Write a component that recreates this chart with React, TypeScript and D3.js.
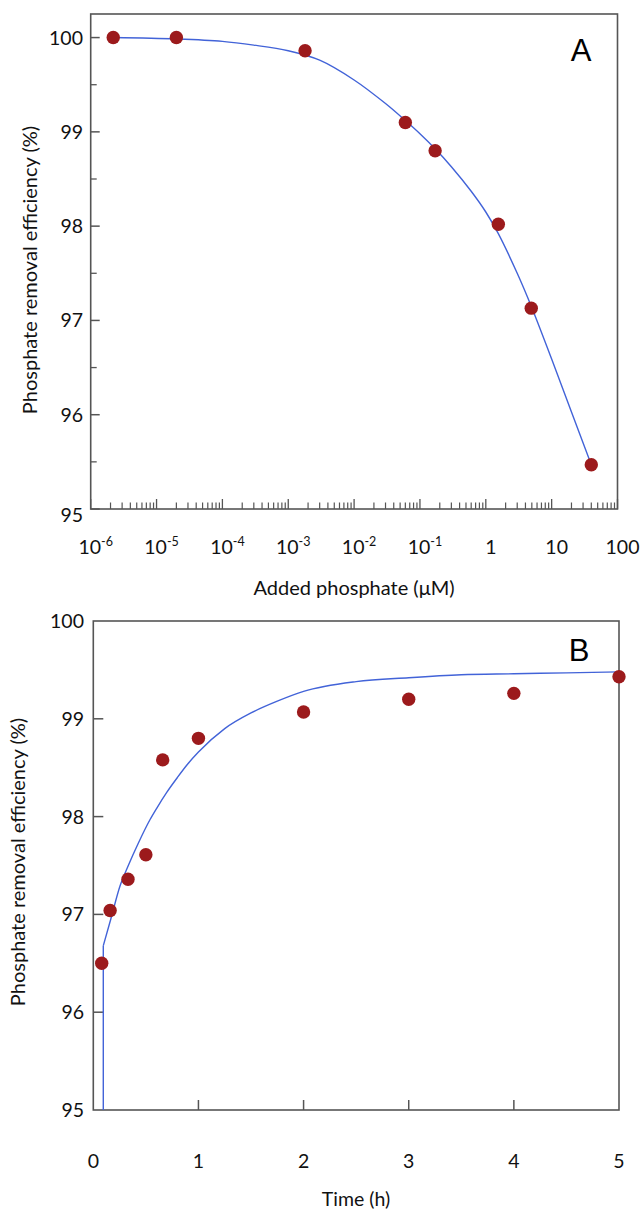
import React from 'react';
import * as d3 from 'd3';

// Panel A data
const aConc = [2.2e-6, 2.0e-5, 1.8e-3, 0.06, 0.17, 1.55, 4.9, 40];
const aEff = [100.0, 100.0, 99.86, 99.1, 98.8, 98.02, 97.13, 95.47];
const aFitConc = [2.2e-6, 2e-5, 1e-4, 3e-4, 1e-3, 3e-3, 1e-2, 3e-2, 0.06, 0.1, 0.17, 0.3, 0.6, 1, 1.55, 3, 4.9, 10, 20, 40];
const aFitEff = [100.0, 99.985, 99.96, 99.92, 99.86, 99.76, 99.55, 99.3, 99.12, 98.98, 98.82, 98.63, 98.37, 98.15, 97.92, 97.5, 97.15, 96.59, 96.03, 95.47];
const aXDecades = [-6, -5, -4, -3, -2, -1, 0, 1, 2];
const aYTicks = [95, 96, 97, 98, 99, 100];
const aYMinor = [95.5, 96.5, 97.5, 98.5, 99.5];

// Panel B data
const bTime = [0.08, 0.16, 0.33, 0.5, 0.66, 1, 2, 3, 4, 5];
const bEff = [96.5, 97.04, 97.36, 97.61, 98.58, 98.8, 99.07, 99.2, 99.26, 99.43];
const bFitTime = [0.095, 0.166, 0.254, 0.333, 0.429, 0.54, 0.6, 0.7, 0.8, 0.9, 1.0, 1.25, 1.5, 1.75, 2.0, 2.5, 3.0, 3.5, 4.0, 4.5, 5.0];
const bFitEff = [96.68, 96.95, 97.29, 97.5, 97.73, 97.97, 98.08, 98.25, 98.4, 98.54, 98.66, 98.9, 99.06, 99.18, 99.28, 99.38, 99.42, 99.45, 99.46, 99.47, 99.48];
const bXTicks = [0, 1, 2, 3, 4, 5];
const bYTicks = [95, 96, 97, 98, 99, 100];

const FRAME = '#555';
const DOT = '#9c1a1c';
const LINE = '#4263d8';
const FONT = 'Lato, "Open Sans", sans-serif';

export default function App() {
  // ---- Panel A scales
  const ax = d3.scaleLog().domain([1e-6, 100]).range([90.7, 617.5]);
  const ay = d3.scaleLinear().domain([95, 100.25]).range([509, 14]);
  const aLine = d3
    .line<number>()
    .x((_, i) => ax(aFitConc[i]))
    .y((d) => ay(d))
    .curve(d3.curveCatmullRom.alpha(0.5));
  const aMinorX: number[] = [];
  aXDecades.slice(0, -1).forEach((k) => {
    for (let m = 2; m <= 9; m++) aMinorX.push(m * Math.pow(10, k));
  });

  // ---- Panel B scales
  const bx = d3.scaleLinear().domain([0, 5]).range([93.3, 619]);
  const by = d3.scaleLinear().domain([95, 100]).range([1110, 621]);
  const bLine = d3
    .line<number>()
    .x((_, i) => bx(bFitTime[i]))
    .y((d) => by(d))
    .curve(d3.curveMonotoneX);

  const tickFont = 19.5;

  const aLabel = (k: number) => {
    if (k >= 0) return <tspan>{String(Math.pow(10, k))}</tspan>;
    return (
      <>
        <tspan>10</tspan>
        <tspan fontSize={12.5} dy={-8}>{String(k)}</tspan>
      </>
    );
  };

  return (
    <svg
      width={641}
      height={1213}
      style={{ position: 'absolute', left: 0, top: 0, background: '#fff' }}
      fontFamily={FONT}
    >
      <rect x={0} y={0} width={641} height={1213} fill="#fff" />

      {/* ================= Panel A ================= */}
      <g>
        {aYTicks.map((v) => (
          <line key={'ay' + v} x1={ax.range()[0]} x2={ax.range()[0] + 9} y1={ay(v)} y2={ay(v)} stroke={FRAME} strokeWidth={1.5} />
        ))}
        {aYMinor.map((v) => (
          <line key={'aym' + v} x1={ax.range()[0]} x2={ax.range()[0] + 6} y1={ay(v)} y2={ay(v)} stroke={FRAME} strokeWidth={1.3} />
        ))}
        {aYTicks.map((v) => (
          <text
            key={'ayl' + v}
            x={83}
            y={ay(v) + (v === 95 ? 8 : 2)}
            textAnchor="end"
            dominantBaseline="middle"
            fontSize={tickFont}
            fill="#111"
          >
            {v}
          </text>
        ))}
        {aXDecades.map((k) => (
          <line key={'axt' + k} x1={ax(Math.pow(10, k))} x2={ax(Math.pow(10, k))} y1={ay.range()[0]} y2={ay.range()[0] - 10} stroke={FRAME} strokeWidth={1.3} />
        ))}
        {aMinorX.map((v, i) => (
          <line key={'axm' + i} x1={ax(v)} x2={ax(v)} y1={ay.range()[0]} y2={ay.range()[0] - 6.5} stroke={FRAME} strokeWidth={1.2} />
        ))}
        {aXDecades.map((k) => (
          <text
            key={'axl' + k}
            x={ax(Math.pow(10, k)) + 5}
            y={554}
            textAnchor="middle"
            fontSize={tickFont}
            fill="#111"
          >
            {aLabel(k)}
          </text>
        ))}
        <rect
          x={ax.range()[0]}
          y={ay.range()[1]}
          width={ax.range()[1] - ax.range()[0]}
          height={ay.range()[0] - ay.range()[1]}
          fill="none"
          stroke={FRAME}
          strokeWidth={1.6}
        />
        <path d={aLine(aFitEff) || ''} fill="none" stroke={LINE} strokeWidth={1.4} />
        {aEff.map((v, i) => (
          <circle key={'ad' + i} cx={ax(aConc[i])} cy={ay(v)} r={6.7} fill={DOT} />
        ))}
        <text x={581} y={61} textAnchor="middle" fontSize={31} fontFamily='"Liberation Sans", Arial, sans-serif' fill="#000">
          A
        </text>
        <text x={354} y={595} textAnchor="middle" fontSize={20} fill="#111">
          Added phosphate (μM)
        </text>
        <text
          transform={`translate(32, 270) rotate(-90)`}
          textAnchor="middle"
          dominantBaseline="middle"
          fontSize={20}
          fill="#111"
        >
          Phosphate removal efficiency (%)
        </text>
      </g>

      {/* ================= Panel B ================= */}
      <g>
        {bYTicks.slice(1, -1).map((v) => (
          <line key={'byt' + v} x1={bx.range()[0]} x2={bx.range()[0] + 10} y1={by(v)} y2={by(v)} stroke={FRAME} strokeWidth={1.5} />
        ))}
        {bYTicks.map((v) => (
          <text
            key={'byl' + v}
            x={84}
            y={by(v) + 2}
            textAnchor="end"
            dominantBaseline="middle"
            fontSize={tickFont}
            fill="#111"
          >
            {v}
          </text>
        ))}
        {bXTicks.slice(1, -1).map((v) => (
          <line key={'bxt' + v} x1={bx(v)} x2={bx(v)} y1={by.range()[0]} y2={by.range()[0] - 10} stroke={FRAME} strokeWidth={1.5} />
        ))}
        {bXTicks.map((v) => (
          <text key={'bxl' + v} x={bx(v)} y={1168} textAnchor="middle" fontSize={tickFont} fill="#111">
            {v}
          </text>
        ))}
        <rect
          x={bx.range()[0]}
          y={by.range()[1]}
          width={bx.range()[1] - bx.range()[0]}
          height={by.range()[0] - by.range()[1]}
          fill="none"
          stroke={FRAME}
          strokeWidth={1.6}
        />
        <line
          x1={bx(bFitTime[0])}
          x2={bx(bFitTime[0])}
          y1={by(95)}
          y2={by(bFitEff[0])}
          stroke={LINE}
          strokeWidth={1.4}
        />
        <path d={bLine(bFitEff) || ''} fill="none" stroke={LINE} strokeWidth={1.4} />
        {bEff.map((v, i) => (
          <circle key={'bd' + i} cx={bx(bTime[i])} cy={by(v)} r={6.7} fill={DOT} />
        ))}
        <text x={579} y={661} textAnchor="middle" fontSize={31} fontFamily='"Liberation Sans", Arial, sans-serif' fill="#000">
          B
        </text>
        <text x={356} y={1206} textAnchor="middle" fontSize={19.5} fill="#111">
          Time (h)
        </text>
        <text
          transform={`translate(20, 862) rotate(-90)`}
          textAnchor="middle"
          dominantBaseline="middle"
          fontSize={20}
          fill="#111"
        >
          Phosphate removal efficiency (%)
        </text>
      </g>
    </svg>
  );
}
